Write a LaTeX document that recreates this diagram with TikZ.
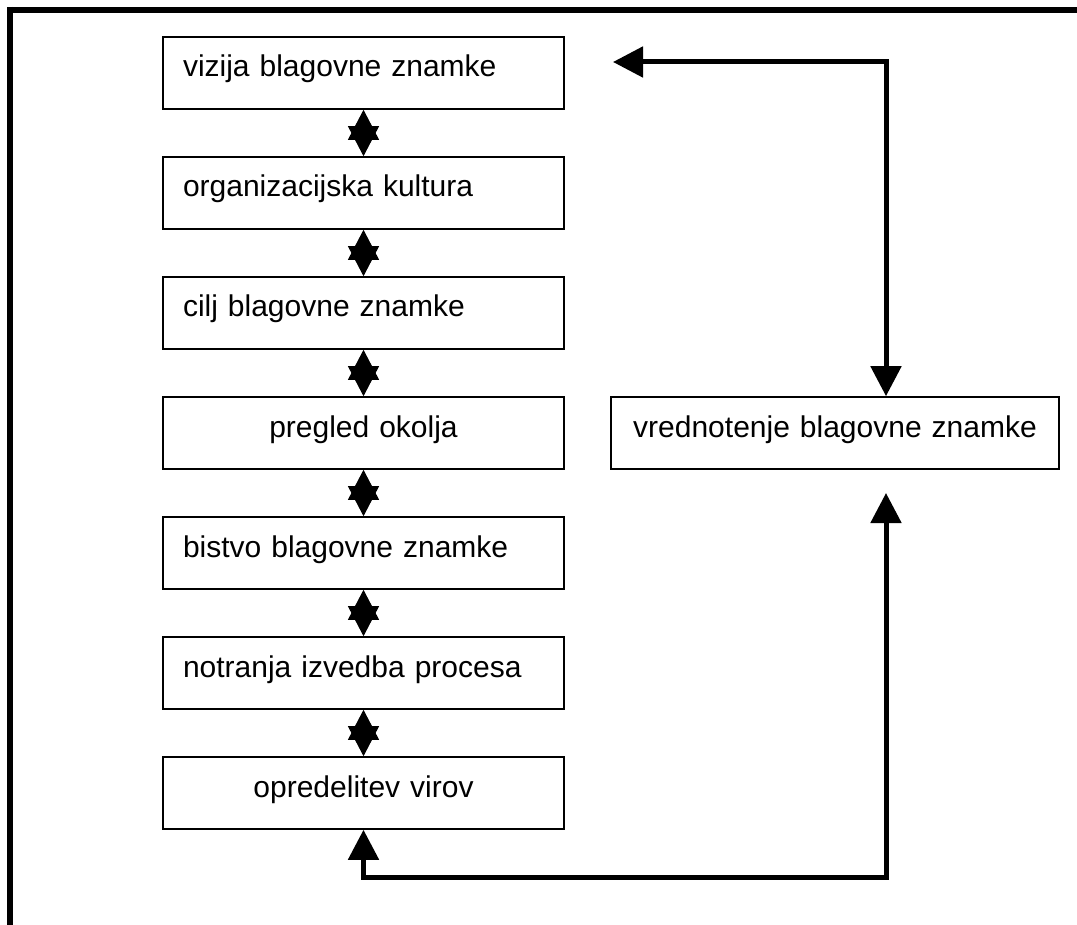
\documentclass[tikz,border=0pt]{standalone}
\usepackage{fontspec}
\setmainfont{Liberation Sans}
\usetikzlibrary{arrows.meta}
\tikzset{
  stage/.style={draw=black, line width=1.6pt, rectangle, minimum height=72pt,
    inner xsep=20pt, inner ysep=0pt, text height=19pt, text depth=11pt,
    font=\fontsize{30}{36}\selectfont},
  leftstage/.style={stage, text width=361pt, align=left},
  centerstage/.style={stage, text width=361pt, align=center},
  evalstage/.style={stage, text width=408pt, align=center},
  linkarrow/.style={line width=1pt, {Triangle[length=30pt,width=31pt]}-{Triangle[length=30pt,width=31pt]}},
  looparrow/.style={line width=5pt, line join=miter, {Triangle[length=30pt,width=30pt]}-{Triangle[length=30pt,width=30pt]}},
  framerule/.style={line width=6pt}
}
\begin{document}
\begin{tikzpicture}[x=1pt, y=-1pt]
\useasboundingbox (0,0) rectangle (1077,925);
% frame
\draw[framerule] (7,10) -- (1080,10);
\draw[framerule] (10,7) -- (10,930);
% left column
\node[leftstage]   (b1) at (363.5,73)  {vizija blagovne znamke};
\node[leftstage]   (b2) at (363.5,193) {organizacijska kultura};
\node[leftstage]   (b3) at (363.5,313) {cilj blagovne znamke};
\node[centerstage] (b4) at (363.5,433) {pregled okolja};
\node[leftstage]   (b5) at (363.5,553) {bistvo blagovne znamke};
\node[leftstage]   (b6) at (363.5,673) {notranja izvedba procesa};
\node[centerstage] (b7) at (363.5,793) {opredelitev virov};
% right box
\node[evalstage] (v) at (835,433) {vrednotenje blagovne znamke};
% links between stages
\draw[linkarrow] (b1.south) -- (b2.north);
\draw[linkarrow] (b2.south) -- (b3.north);
\draw[linkarrow] (b3.south) -- (b4.north);
\draw[linkarrow] (b4.south) -- (b5.north);
\draw[linkarrow] (b5.south) -- (b6.north);
\draw[linkarrow] (b6.south) -- (b7.north);
% feedback loops
\coordinate (lt) at (613,62);
\coordinate (rt) at (886,62);
\coordinate (lb) at (886,493);
\coordinate (lc) at (886,877);
\draw[looparrow] (lt) -- (rt) -- (v.north -| rt);
\draw[looparrow] (lb) -- (lc) -| (b7.south);
\end{tikzpicture}
\end{document}
